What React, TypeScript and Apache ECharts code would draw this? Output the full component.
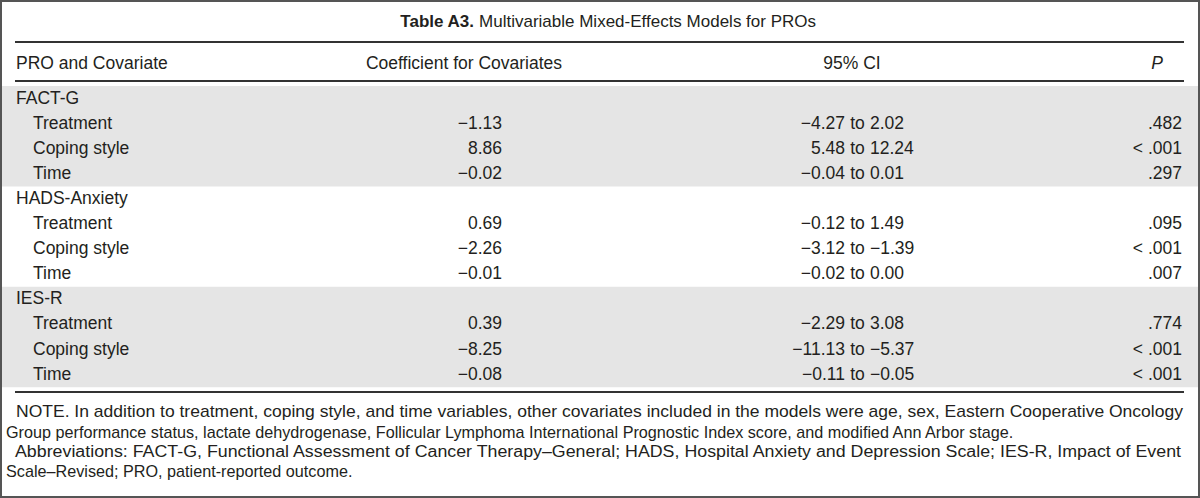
import React, { useEffect, useRef } from "react";
import * as echarts from "echarts";

const titleBold = "Table A3.";
const titleRest = "Multivariable Mixed-Effects Models for PROs";
const headers = ["PRO and Covariate", "Coefficient for Covariates", "95% CI", "P"];
const groups = ["FACT-G", "HADS-Anxiety", "IES-R"];
const covariates = ["Treatment", "Coping style", "Time"];
const coefficients = [
  [-1.13, 8.86, -0.02],
  [0.69, -2.26, -0.01],
  [0.39, -8.25, -0.08],
];
const ciLower = [
  [-4.27, 5.48, -0.04],
  [-0.12, -3.12, -0.02],
  [-2.29, -11.13, -0.11],
];
const ciUpper = [
  [2.02, 12.24, 0.01],
  [1.49, -1.39, 0.0],
  [3.08, -5.37, -0.05],
];
const pValues = [
  [".482", "< .001", ".297"],
  [".095", "< .001", ".007"],
  [".774", "< .001", "< .001"],
];
const notes = [
  "NOTE. In addition to treatment, coping style, and time variables, other covariates included in the models were age, sex, Eastern Cooperative Oncology",
  "Group performance status, lactate dehydrogenase, Follicular Lymphoma International Prognostic Index score, and modified Ann Arbor stage.",
  "Abbreviations: FACT-G, Functional Assessment of Cancer Therapy\u2013General; HADS, Hospital Anxiety and Depression Scale; IES-R, Impact of Event",
  "Scale\u2013Revised; PRO, patient-reported outcome.",
];
const noteJustified = [true, false, true, false];
const noteIndent = [16, 6, 15, 6];

const FONT = '"Liberation Sans", Arial, Helvetica, sans-serif';
const TXT = "#231f20";
const FS = 17.5;
const NOTE_FS = 16.2;

const fmt = (v: number) => (v < 0 ? "\u2212" : "") + Math.abs(v).toFixed(2);

function measure(text: string, size: number) {
  const c = document.createElement("canvas").getContext("2d");
  if (!c) return text.length * size * 0.5;
  c.font = `${size}px "Liberation Sans"`;
  return c.measureText(text).width;
}

function txt(text: string, x: number, y: number, align = "left", extra: any = {}, el: any = {}) {
  return {
    type: "text",
    x,
    y,
    silent: true,
    ...el,
    style: {
      text,
      x: 0,
      y: 0,
      align,
      verticalAlign: "middle",
      fontSize: FS,
      fontFamily: FONT,
      fill: TXT,
      ...extra,
    },
  };
}

function line(x1: number, x2: number, y: number) {
  return {
    type: "line",
    silent: true,
    shape: { x1, y1: y, x2, y2: y },
    style: { stroke: "#333", lineWidth: 2 },
  };
}

export default function App() {
  const ref = useRef<HTMLDivElement>(null);
  useEffect(() => {
    document.body.style.margin = "0";
    if (!ref.current) return;
    const chart = echarts.init(ref.current, null, { renderer: "svg" });

    const els: any[] = [];
    // outer border
    els.push({
      type: "rect",
      silent: true,
      shape: { x: 1, y: 1, width: 1198, height: 496 },
      style: { fill: "#fff", stroke: "#555", lineWidth: 2 },
    });

    const rowH = 25.1;
    const groupH = rowH * 4;
    const firstRow = 97.5;
    // bands
    groups.forEach((g, gi) => {
      if (gi % 2 === 0) {
        els.push({
          type: "rect",
          silent: true,
          shape: { x: 2, y: firstRow - 11.5 + gi * groupH, width: 1196, height: groupH },
          style: { fill: "#e5e5e5" },
        });
      }
    });

    // rules
    els.push(line(15, 1184, 42));
    els.push(line(15, 1184, 81));
    els.push(line(15, 1184, 392));

    // title
    els.push(
      txt(`{b|${titleBold}} ${titleRest}`, 608, 21, "center", {
        fontSize: 17,
        rich: { b: { fontWeight: "bold", fontSize: 17, fontFamily: FONT, fill: TXT } },
      })
    );

    // headers
    els.push(txt(headers[0], 16, 63, "left"));
    els.push(txt(headers[1], 464, 63, "center"));
    els.push(txt(headers[2], 852, 63, "center"));
    els.push(txt(headers[3], 1157, 63, "center", { fontStyle: "italic" }));

    // rows
    groups.forEach((g, gi) => {
      const gy = firstRow + gi * groupH;
      els.push(txt(g, 16, gy, "left"));
      covariates.forEach((c, ci) => {
        const y = gy + (ci + 1) * rowH;
        els.push(txt(c, 33, y, "left"));
        els.push(txt(fmt(coefficients[gi][ci]), 502, y, "right"));
        els.push(txt(fmt(ciLower[gi][ci]), 845, y, "right"));
        els.push(txt("to", 857.5, y, "center"));
        els.push(txt(fmt(ciUpper[gi][ci]), 870, y, "left"));
        els.push(txt(pValues[gi][ci], 1182, y, "right"));
      });
    });

    // notes
    const noteY = [412, 432, 451.5, 471];
    notes.forEach((n, i) => {
      const x = noteIndent[i];
      let sx = 1;
      if (noteJustified[i]) {
        const w = measure(n, NOTE_FS);
        sx = (1183 - x) / w;
      }
      els.push(txt(n, x, noteY[i], "left", { fontSize: NOTE_FS }, { scaleX: sx }));
    });

    chart.setOption({ animation: false, graphic: { elements: els } });
    return () => chart.dispose();
  }, []);
  return <div ref={ref} style={{ width: 1200, height: 498 }} />;
}
